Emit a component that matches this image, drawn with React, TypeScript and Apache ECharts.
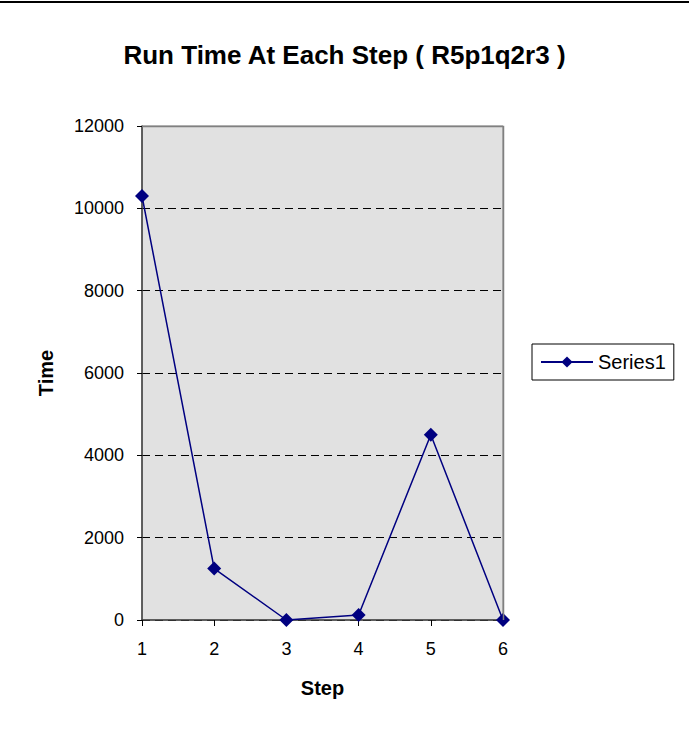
import React, { useEffect, useRef } from "react";
import * as echarts from "echarts";

const steps = ["1", "2", "3", "4", "5", "6"];
const runTimes = [10300, 1250, 0, 120, 4500, 0];
const seriesName = "Series1";
const chartTitle = "Run Time At Each Step ( R5p1q2r3 )";

const FONT = "'Liberation Sans', Arial, sans-serif";

// plot area box
const GRID = { left: 142, right: 186, top: 126, bottom: 113 };
const W = 689;
const H = 733;

export default function App() {
  const ref = useRef<HTMLDivElement>(null);

  useEffect(() => {
    if (!ref.current) return;
    const chart = echarts.init(ref.current, undefined, { renderer: "svg" });
    const plotRight = W - GRID.right;
    chart.setOption({
      animation: false,
      backgroundColor: "#ffffff",
      textStyle: { fontFamily: FONT },
      title: {
        text: chartTitle,
        left: "center",
        top: 42,
        padding: 0,
        textStyle: { fontFamily: FONT, fontSize: 26, fontWeight: "bold", color: "#000" },
      },
      graphic: [
        {
          type: "line",
          shape: { x1: 0, y1: 2, x2: W, y2: 2 },
          style: { stroke: "#000", lineWidth: 2 },
        },
        // solid grey frame on the top and right of the plot area
        {
          type: "polyline",
          z: 10,
          shape: {
            points: [
              [GRID.left, GRID.top + 0.5],
              [plotRight + 0.5, GRID.top + 0.5],
              [plotRight + 0.5, H - GRID.bottom],
            ],
          },
          style: { stroke: "#808080", lineWidth: 1.5, fill: "none" },
        },
      ],
      legend: {
        left: 532,
        top: 344,
        orient: "vertical",
        padding: [8, 8, 8, 8],
        itemWidth: 52,
        itemHeight: 14,
        itemGap: 0,
        borderColor: "#000",
        borderWidth: 1,
        textStyle: { fontFamily: FONT, fontSize: 20, color: "#000" },
        data: [seriesName],
      },
      grid: {
        ...GRID,
        show: true,
        backgroundColor: "#e1e1e1",
        borderColor: "#808080",
        borderWidth: 1,
        containLabel: false,
      },
      xAxis: {
        type: "category",
        data: steps,
        boundaryGap: false,
        name: "Step",
        nameLocation: "middle",
        nameGap: 58,
        nameTextStyle: { fontFamily: FONT, fontSize: 20, fontWeight: "bold", color: "#000" },
        axisLine: { lineStyle: { color: "#404040", width: 1.5 } },
        axisTick: { show: true, length: 6, lineStyle: { color: "#000" } },
        axisLabel: { fontFamily: FONT, fontSize: 18, color: "#000", margin: 20 },
        splitLine: { show: false },
      },
      yAxis: {
        type: "value",
        min: 0,
        max: 12000,
        interval: 2000,
        name: "Time",
        nameLocation: "middle",
        nameRotate: 90,
        nameGap: 86,
        nameTextStyle: { fontFamily: FONT, fontSize: 20, fontWeight: "bold", color: "#000" },
        axisLine: { show: true, lineStyle: { color: "#404040", width: 1.5 } },
        axisTick: { show: true, length: 5, lineStyle: { color: "#000" } },
        axisLabel: {
          fontFamily: FONT,
          fontSize: 18,
          color: "#000",
          margin: 18,
          formatter: (v: number) => String(v),
        },
        splitLine: { show: true, lineStyle: { color: "#000", type: [8, 5], width: 1 } },
      },
      series: [
        {
          name: seriesName,
          type: "line",
          data: runTimes,
          symbol: "diamond",
          symbolSize: 14,
          itemStyle: { color: "#000080" },
          lineStyle: { color: "#000080", width: 1.5 },
        },
      ],
    });
    return () => chart.dispose();
  }, []);

  return (
    <div
      ref={ref}
      style={{ position: "absolute", left: 0, top: 0, width: W, height: H }}
    />
  );
}
